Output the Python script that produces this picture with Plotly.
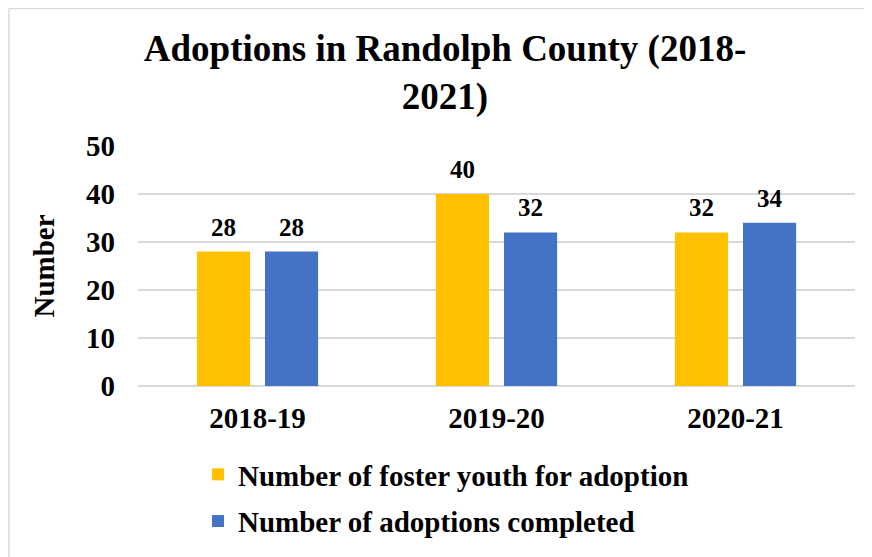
import plotly.graph_objects as go

categories = ["2018-19", "2019-20", "2020-21"]
foster_youth = [28, 40, 32]
adoptions_completed = [28, 32, 34]
series_names = ["Number of foster youth for adoption", "Number of adoptions completed"]
colors = ["#FFC000", "#4472C4"]

FONT = "Liberation Serif"
# page body has an 8px margin, so the figure is laid out in its own coords
W, H = 864, 549
L, R, T, B = 130, 17, 138, 171
pw, ph = W - L - R, H - T - B

fig = go.Figure()
for i, (vals, name, col) in enumerate(zip([foster_youth, adoptions_completed], series_names, colors)):
    fig.add_trace(go.Bar(
        x=categories, y=vals, name=f"<b>{name}</b>", marker_color=col,
        legendgroup=f"g{i}", marker_line_width=0,
    ))

# data labels
for vals, shift in [(foster_youth, -34), (adoptions_completed, 34)]:
    for c, v in zip(categories, vals):
        fig.add_annotation(x=c, y=v, text=f"<b>{v}</b>", showarrow=False,
                           xshift=shift, yshift=9, yanchor="bottom",
                           font=dict(family=FONT, size=25, color="#000"))

# chart border (top and left edges visible)
fig.add_shape(type="line", xref="paper", yref="paper",
              x0=(1 - L) / pw, x1=(W + 10 - L) / pw,
              y0=1 + (T - 0.5) / ph, y1=1 + (T - 0.5) / ph,
              line=dict(color="#d9d9d9", width=1.5))
fig.add_shape(type="line", xref="paper", yref="paper",
              x0=(1 - L) / pw, x1=(1 - L) / pw,
              y0=1 + (T - 0.5) / ph, y1=-(B + 10) / ph,
              line=dict(color="#d9d9d9", width=1.5))

fig.update_layout(
    width=W, height=H,
    margin=dict(l=L, r=R, t=T, b=B, autoexpand=False),
    paper_bgcolor="white", plot_bgcolor="white",
    barmode="group", bargap=0.43, bargroupgap=0.22,
    title=dict(text="<b>Adoptions in Randolph County (2018-<br>2021)</b>",
               x=437 / W, xanchor="center", y=1 - 53 / H, yanchor="top",
               font=dict(family=FONT, size=37, color="#000")),
    font=dict(family=FONT, color="#000"),
    xaxis=dict(showgrid=False, showline=False, ticks="",
               tickfont=dict(family=FONT, size=29, color="#000"),
               tickprefix="<b>", ticksuffix="</b>", ticklabelstandoff=12),
    yaxis=dict(range=[0, 50], dtick=10, showgrid=True, gridcolor="#d9d9d9", gridwidth=1.5,
               zeroline=True, zerolinecolor="#d9d9d9", zerolinewidth=1.5,
               showline=False, ticks="",
               tickfont=dict(family=FONT, size=29, color="#000"),
               tickprefix="<b>", ticksuffix="</b>", ticklabelstandoff=22,
               title=dict(text="<b>Number</b>", standoff=22,
                          font=dict(family=FONT, size=29, color="#000"))),
    legend=dict(orientation="v", x=(190 - L) / pw, xanchor="left",
                y=-(441 - (T + ph)) / ph, yanchor="top",
                font=dict(family=FONT, size=29, color="#000"),
                tracegroupgap=6, itemwidth=30, traceorder="grouped"),
    showlegend=True,
)

fig.write_html("out.html")
